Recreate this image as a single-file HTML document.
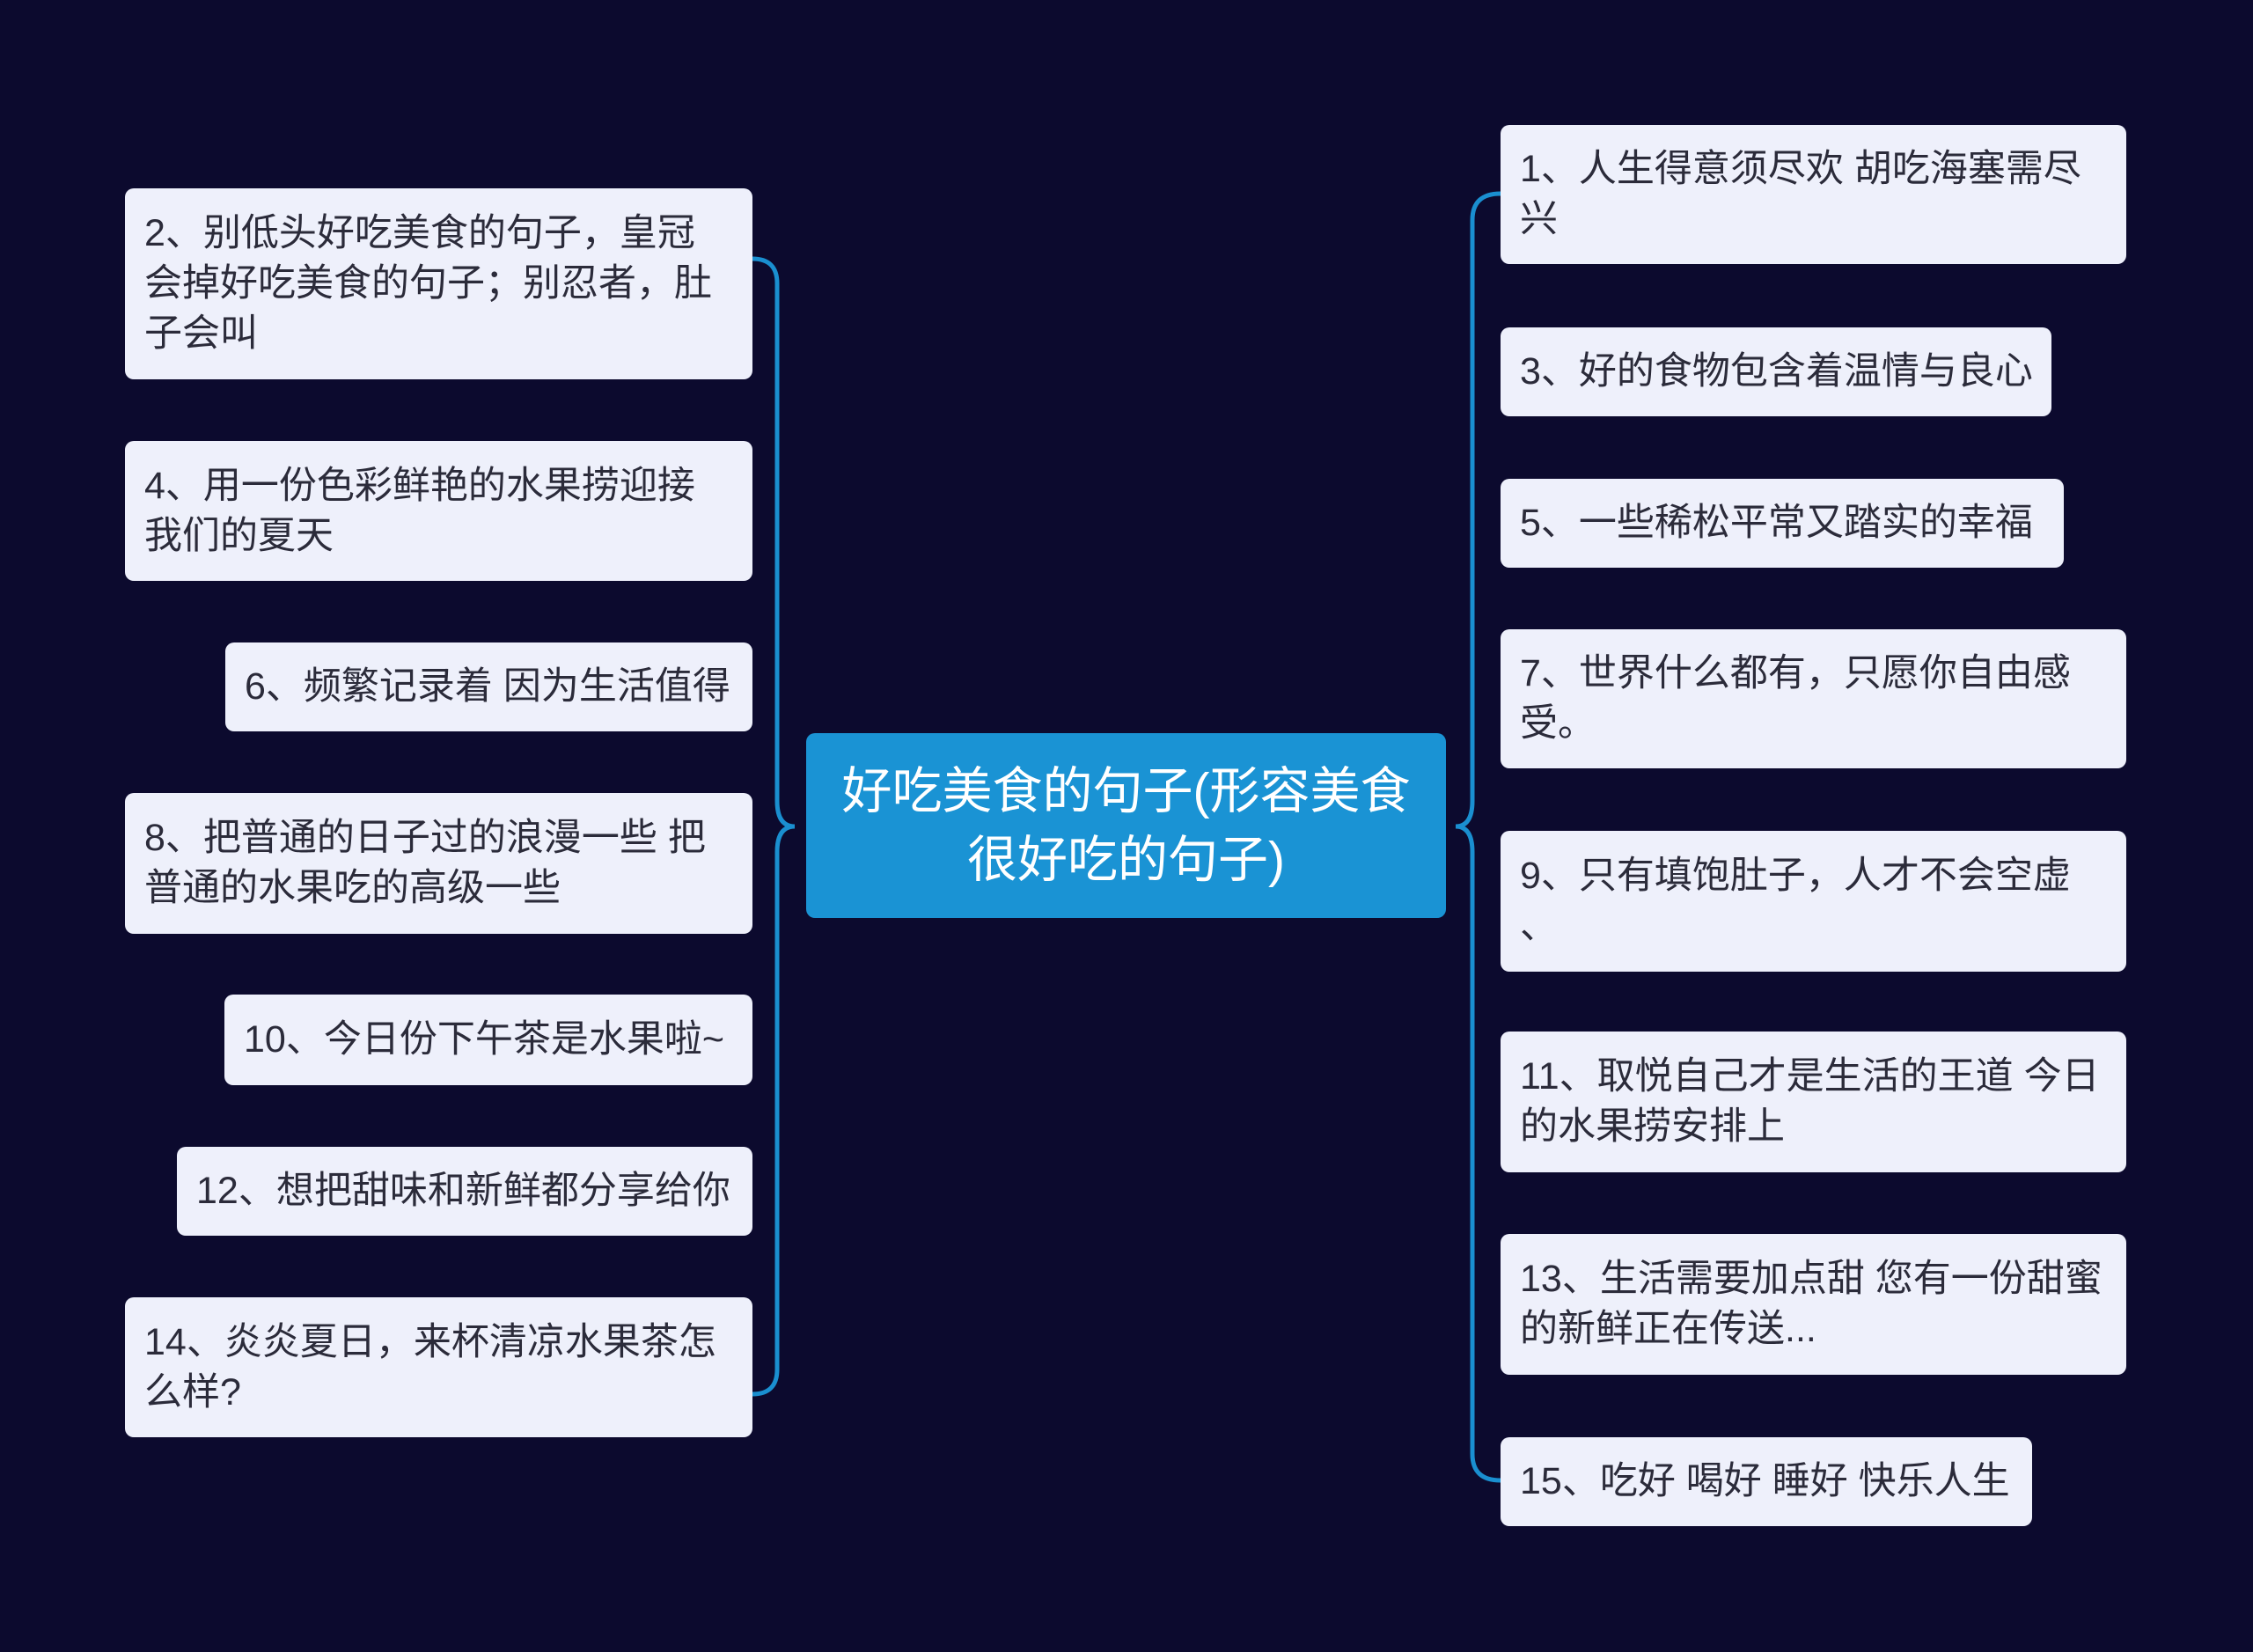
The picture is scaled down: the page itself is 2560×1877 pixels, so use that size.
<!DOCTYPE html>
<html><head><meta charset="utf-8"><style>
html,body{margin:0;padding:0;}
body{width:2560px;height:1877px;background:#0c0a2e;position:relative;overflow:hidden;font-family:"Liberation Sans","Noto Sans CJK SC",sans-serif;}
.n{position:absolute;box-sizing:border-box;background:#eef0fb;border-radius:10px;color:#2b2b3a;font-size:43px;line-height:57px;padding:0 22px;display:flex;align-items:center;white-space:nowrap;}
.c{position:absolute;left:916px;top:833px;width:727px;height:210px;background:#1a93d4;border-radius:10px;color:#fff;font-size:57px;line-height:78px;display:flex;align-items:center;justify-content:center;text-align:center;}
</style></head><body>
<svg width="2560" height="1877" style="position:absolute;left:0;top:0">
<path d="M855,294 Q883,294 883,322 L883,910 Q883,939 903,939 Q883,939 883,968 L883,1556 Q883,1584 855,1584" fill="none" stroke="#1a8fd0" stroke-width="5"/>
<path d="M1705,220 Q1673,220 1673,250 L1673,910 Q1673,939 1654,939 Q1673,939 1673,968 L1673,1652 Q1673,1682 1705,1682" fill="none" stroke="#1a8fd0" stroke-width="5"/>
</svg>
<div class="c"><div>好吃美食的句子(形容美食<br>很好吃的句子)</div></div>

<div class="n" style="left:142px;top:214px;width:713px;height:217px">2、别低头好吃美食的句子，皇冠<br>会掉好吃美食的句子；别忍者，肚<br>子会叫</div>
<div class="n" style="left:142px;top:501px;width:713px;height:159px">4、用一份色彩鲜艳的水果捞迎接<br>我们的夏天</div>
<div class="n" style="left:256px;top:730px;width:599px;height:101px">6、频繁记录着 因为生活值得</div>
<div class="n" style="left:142px;top:901px;width:713px;height:160px">8、把普通的日子过的浪漫一些 把<br>普通的水果吃的高级一些</div>
<div class="n" style="left:255px;top:1130px;width:600px;height:103px">10、今日份下午茶是水果啦~</div>
<div class="n" style="left:201px;top:1303px;width:654px;height:101px">12、想把甜味和新鲜都分享给你</div>
<div class="n" style="left:142px;top:1474px;width:713px;height:159px">14、炎炎夏日，来杯清凉水果茶怎<br>么样?</div>

<div class="n" style="left:1705px;top:142px;width:711px;height:158px">1、人生得意须尽欢 胡吃海塞需尽<br>兴</div>
<div class="n" style="left:1705px;top:372px;width:626px;height:101px">3、好的食物包含着温情与良心</div>
<div class="n" style="left:1705px;top:544px;width:640px;height:101px">5、一些稀松平常又踏实的幸福</div>
<div class="n" style="left:1705px;top:715px;width:711px;height:158px">7、世界什么都有，只愿你自由感<br>受。</div>
<div class="n" style="left:1705px;top:944px;width:711px;height:160px">9、只有填饱肚子，人才不会空虚<br>、</div>
<div class="n" style="left:1705px;top:1172px;width:711px;height:160px">11、取悦自己才是生活的王道 今日<br>的水果捞安排上</div>
<div class="n" style="left:1705px;top:1402px;width:711px;height:160px">13、生活需要加点甜 您有一份甜蜜<br>的新鲜正在传送...</div>
<div class="n" style="left:1705px;top:1633px;width:604px;height:101px">15、吃好 喝好 睡好 快乐人生</div>
</body></html>
